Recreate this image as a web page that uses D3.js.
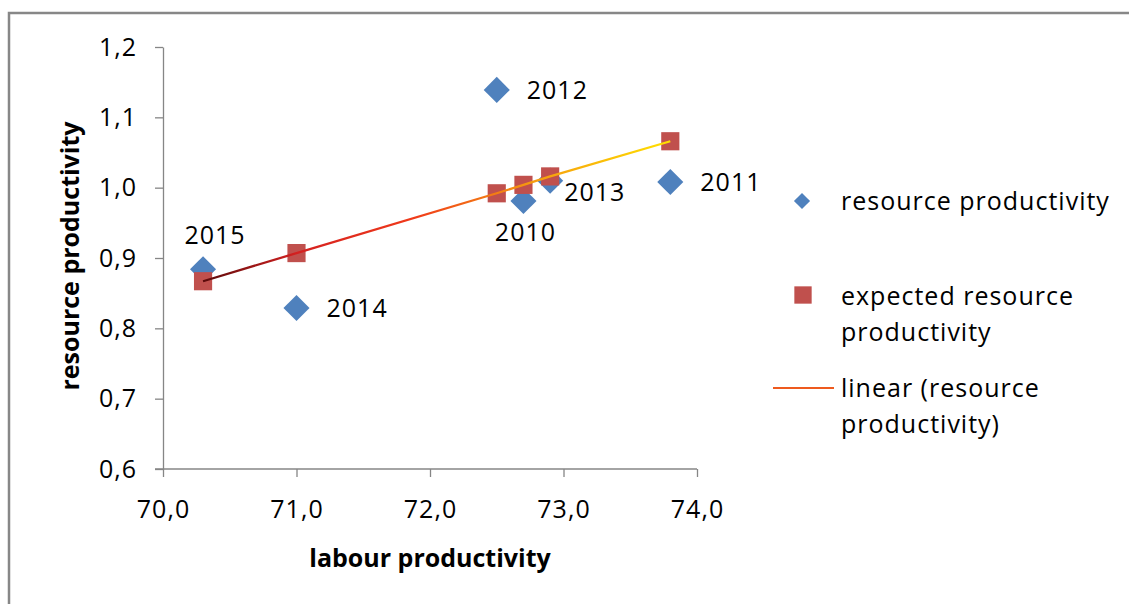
<!DOCTYPE html>
<html>
<head>
<meta charset="utf-8">
<script src="https://cdn.jsdelivr.net/npm/d3@7"></script>
<style>
  html, body { margin: 0; padding: 0; background: #fff; }
  svg { display: block; }
  text { font-family: "Open Sans", sans-serif; fill: #000; }
</style>
</head>
<body>
<svg width="1129" height="604"></svg>
<script>
// data
const years = [2010, 2011, 2012, 2013, 2014, 2015];
const labour = [72.7, 73.8, 72.5, 72.9, 71.0, 70.3];
const resource = [0.981, 1.008, 1.139, 1.010, 0.829, 0.884];
const expected = [1.004, 1.066, 0.992, 1.016, 0.907, 0.867];
const xTicks = [70, 71, 72, 73, 74];
const yTicks = [0.6, 0.7, 0.8, 0.9, 1.0, 1.1, 1.2];
// where each year label sits relative to its point
const labelPlace = ['below', 'right', 'right', 'belowRight', 'right', 'above'];

const BLUE = '#4f81bd', RED = '#c0504d', AXIS = '#868686';
const FS = 25, LS = '1px';

const svg = d3.select('svg');

// outer frame (only top and left edges visible)
svg.append('rect')
    .attr('x', 9).attr('y', 13)
    .attr('width', 1200).attr('height', 700)
    .attr('fill', 'none')
    .attr('stroke', '#878787')
    .attr('stroke-width', 2.5);

const x = d3.scaleLinear().domain([70, 74]).range([163, 697]);
const y = d3.scaleLinear().domain([0.6, 1.2]).range([469, 47]);

const fmt = d => d3.format('.1f')(d).replace('.', ',');

// axes
const xAxis = svg.append('g')
    .attr('transform', `translate(0,${y(0.6)})`)
    .call(d3.axisBottom(x).tickValues(xTicks).tickFormat(fmt).tickSize(8).tickSizeOuter(0));
const yAxis = svg.append('g')
    .attr('transform', `translate(${x(70)},0)`)
    .call(d3.axisLeft(y).tickValues(yTicks).tickFormat(fmt).tickSize(8).tickSizeOuter(0));

[xAxis, yAxis].forEach(g => {
    g.select('.domain').attr('stroke', AXIS).attr('stroke-width', 1.3);
    g.selectAll('.tick line').attr('stroke', AXIS).attr('stroke-width', 1.3);
    g.selectAll('.tick text')
        .style('font-family', '"Open Sans", sans-serif')
        .style('font-size', FS + 'px')
        .style('letter-spacing', LS)
        .attr('fill', '#000');
});
xAxis.selectAll('.tick text').attr('dy', '1.5em');
yAxis.selectAll('.tick text').attr('dx', '-0.6em');
// extend x axis line a little to the left like the original
xAxis.select('.domain').attr('d', `M${x(70) - 8},0H${x(74)}`);

// axis titles
svg.append('text')
    .attr('x', 430).attr('y', 567)
    .attr('text-anchor', 'middle')
    .style('font-size', FS + 'px').style('font-weight', 'bold')
    .text('labour productivity');
svg.append('text')
    .attr('transform', 'translate(79,256) rotate(-90)')
    .attr('text-anchor', 'middle')
    .style('font-size', FS + 'px').style('font-weight', 'bold')
    .text('resource productivity');

const pts = years.map((yr, i) => ({year: yr, lx: labour[i], r: resource[i], e: expected[i], place: labelPlace[i]}));

// diamonds
const diamond = d3.symbol(d3.symbolSquare, 340);
svg.append('g').selectAll('path')
    .data(pts).join('path')
    .attr('d', diamond)
    .attr('transform', d => `translate(${x(d.lx)},${y(d.r)}) rotate(45)`)
    .attr('fill', BLUE);

// squares
const square = d3.symbol(d3.symbolSquare, 330);
svg.append('g').selectAll('path')
    .data(pts).join('path')
    .attr('d', square)
    .attr('transform', d => `translate(${x(d.lx)},${y(d.e)})`)
    .attr('fill', RED);

// trend line with gradient
const sorted = pts.slice().sort((a, b) => a.lx - b.lx);
const first = sorted[0], last = sorted[sorted.length - 1];
const grad = svg.append('defs').append('linearGradient')
    .attr('id', 'trend')
    .attr('gradientUnits', 'userSpaceOnUse')
    .attr('x1', x(first.lx)).attr('x2', x(last.lx))
    .attr('y1', 0).attr('y2', 0);
[[0, '#5a0a0a'], [0.2, '#d42020'], [0.45, '#f03a1a'], [0.7, '#f59a10'], [1, '#ffe000']].forEach(s => {
    grad.append('stop').attr('offset', s[0]).attr('stop-color', s[1]);
});
svg.append('path')
    .datum(sorted)
    .attr('d', d3.line().x(d => x(d.lx)).y(d => y(d.e)))
    .attr('fill', 'none')
    .attr('stroke', 'url(#trend)')
    .attr('stroke-width', 2.2);

// year labels
const offsets = {
    right: [30, 9, 'start'],
    below: [2, 40, 'middle'],
    above: [12, -25, 'middle'],
    belowRight: [14, 20, 'start']
};
svg.append('g').selectAll('text')
    .data(pts).join('text')
    .attr('x', d => x(d.lx) + offsets[d.place][0])
    .attr('y', d => y(d.r) + offsets[d.place][1])
    .attr('text-anchor', d => offsets[d.place][2])
    .style('font-size', FS + 'px')
    .style('letter-spacing', LS)
    .text(d => d.year);

// legend
const lg = svg.append('g');
lg.append('path')
    .attr('d', d3.symbol(d3.symbolSquare, 130))
    .attr('transform', 'translate(802,201) rotate(45)')
    .attr('fill', BLUE);
lg.append('path')
    .attr('d', d3.symbol(d3.symbolSquare, 300))
    .attr('transform', 'translate(803,295)')
    .attr('fill', RED);
lg.append('line')
    .attr('x1', 773).attr('x2', 834)
    .attr('y1', 388).attr('y2', 388)
    .attr('stroke', '#ee5a1e').attr('stroke-width', 2.2);

const legendText = [
    [210, ['resource productivity']],
    [305, ['expected resource', 'productivity']],
    [397, ['linear (resource', 'productivity)']]
];
legendText.forEach(([by, lines]) => {
    const t = lg.append('text')
        .attr('x', 841).attr('y', by)
        .style('font-size', FS + 'px')
        .style('letter-spacing', LS);
    lines.forEach((l, i) => {
        t.append('tspan').attr('x', 841).attr('dy', i === 0 ? 0 : 36).text(l);
    });
});
</script>
</body>
</html>
